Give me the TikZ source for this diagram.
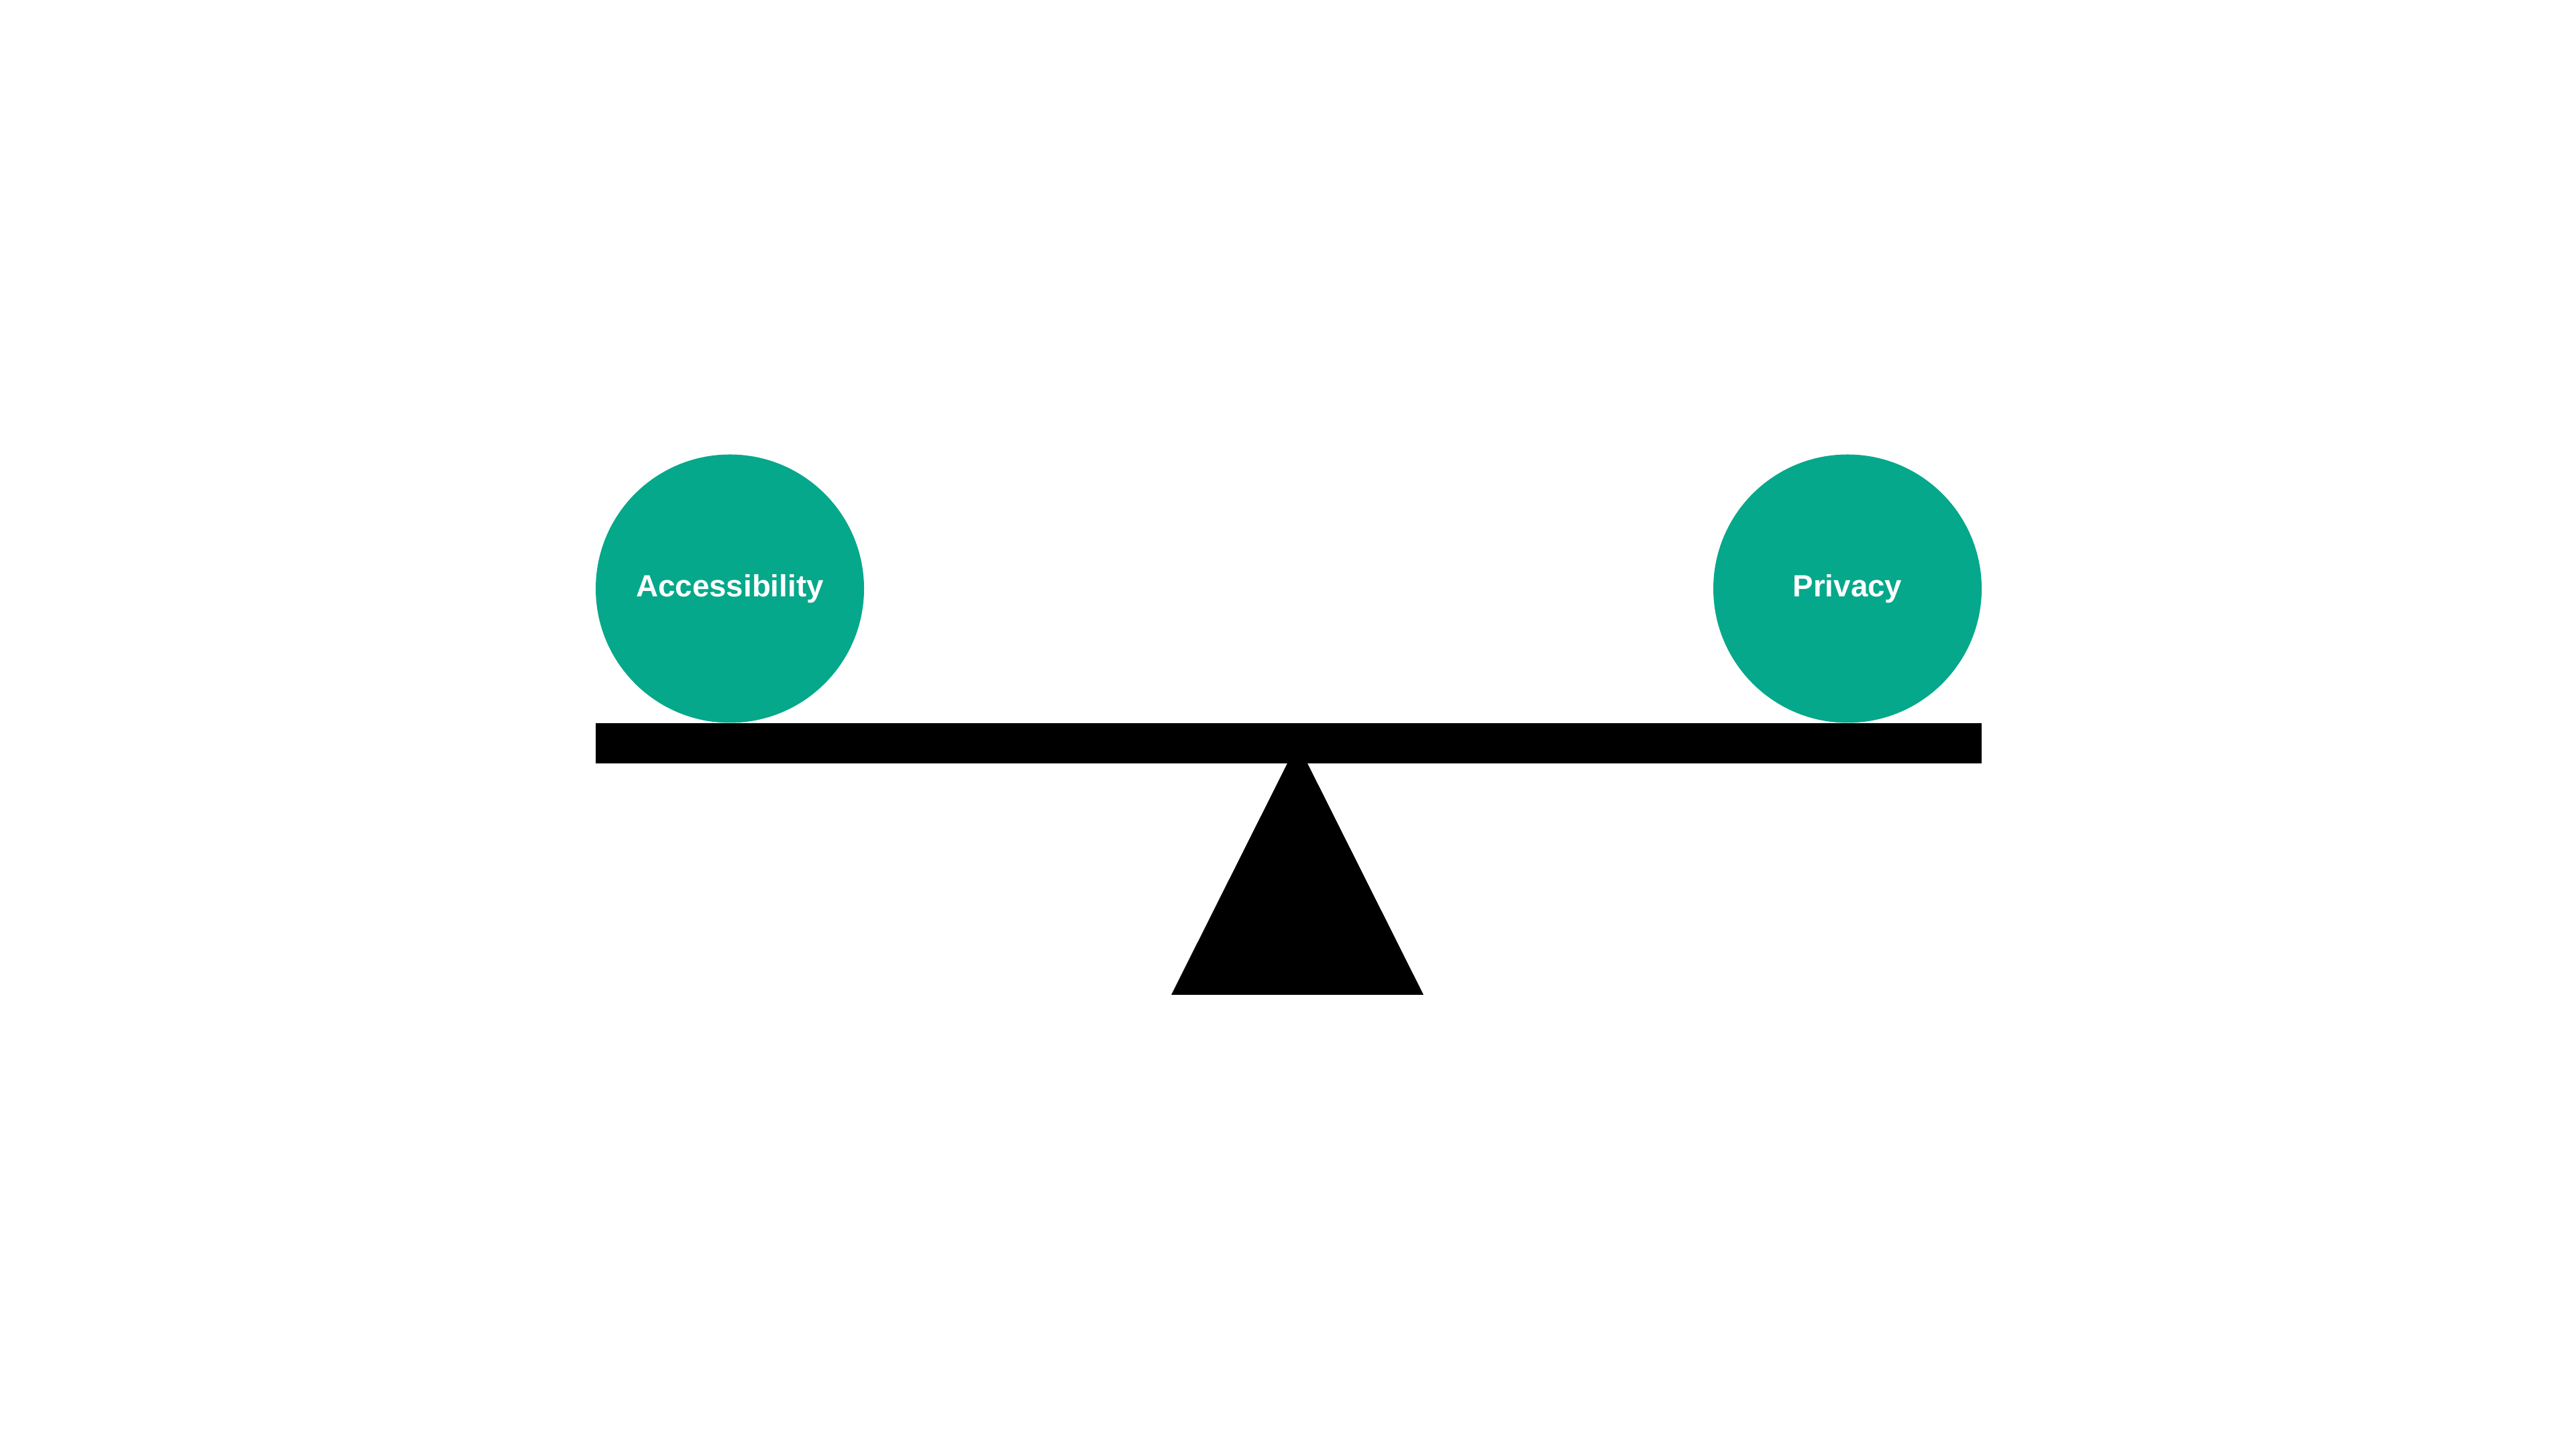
\documentclass[tikz,border=0pt]{standalone}
\usepackage{fontspec}
\setmainfont{Liberation Sans}
\usetikzlibrary{positioning}
\definecolor{scalegreen}{RGB}{5,168,138}

\begin{document}
\begin{tikzpicture}
\useasboundingbox[fill=white] (0,0) rectangle (38.4,21.6);
% Beam
\node[fill=black, minimum width=20.66cm, minimum height=0.6cm, inner sep=0pt] (beam) at (19.21,10.52) {};
% Fulcrum
\fill[black] (19.34,10.52) -- (21.22,6.77) -- (17.46,6.77) -- cycle;
% Weights (left and right)
\node[circle, fill=scalegreen, minimum size=4cm, inner sep=0pt, text=white, font=\fontsize{13}{15}\selectfont\bfseries] (access) at (10.88,12.825) {Accessibility};
\node[circle, fill=scalegreen, minimum size=4cm, inner sep=0pt, text=white, font=\fontsize{13}{15}\selectfont\bfseries] (privacy) at (27.54,12.825) {Privacy};
\end{tikzpicture}
\end{document}
